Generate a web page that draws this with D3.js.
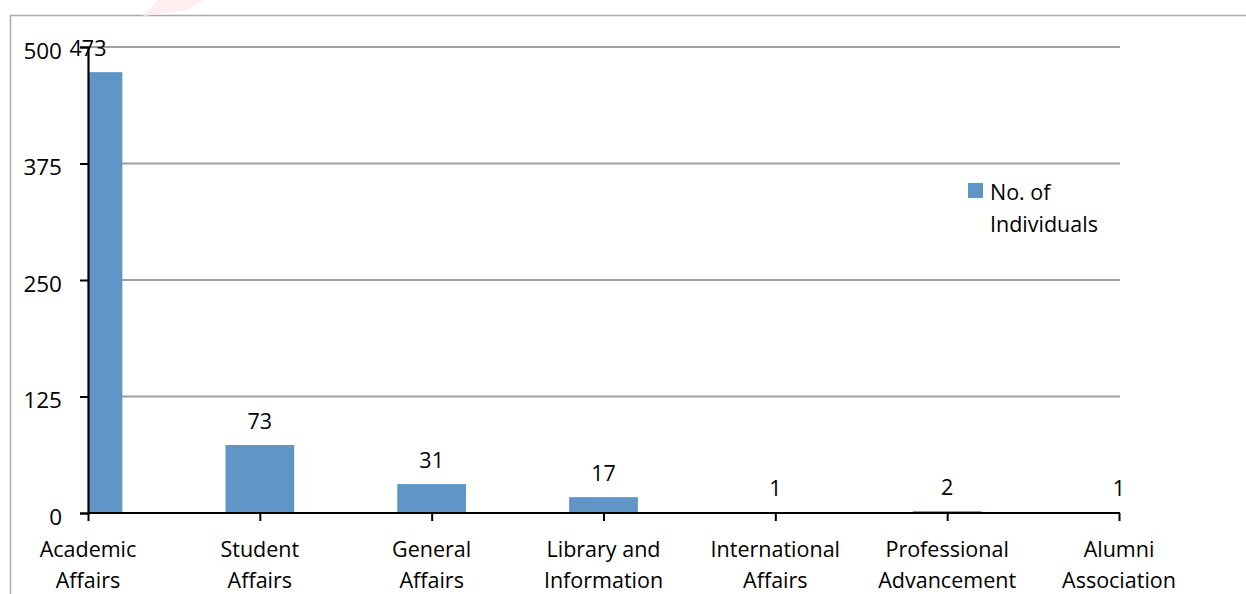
<!DOCTYPE html>
<html>
<head>
<meta charset="utf-8">
<script src="https://cdn.jsdelivr.net/npm/d3@7"></script>
<style>
  html, body { margin: 0; padding: 0; background: #fff; }
  svg { display: block; font-family: "Open Sans", "Noto Sans", sans-serif; }
</style>
</head>
<body>
<svg id="chart" width="1246" height="594"></svg>
<script>
const categories = [
  ["Academic", "Affairs"],
  ["Student", "Affairs"],
  ["General", "Affairs"],
  ["Library and", "Information"],
  ["International", "Affairs"],
  ["Professional", "Advancement"],
  ["Alumni", "Association"]
];
const values = [473, 73, 31, 17, 1, 2, 1];
const yTicks = [0, 125, 250, 375, 500];
const seriesName = ["No. of", "Individuals"];

(function () {
const svg = d3.select("#chart");
const W = 1246, H = 594;
const pLeft = 88, pRight = 1120, pTop = 47, pBottom = 513;
const barColor = "#6095c8";
const fs = 21.5;

// outer frame (cropped at right and bottom)
svg.append("path")
  .attr("d", `M10.5,${H + 5} V15.5 H${W + 5}`)
  .attr("fill", "none").attr("stroke", "#ababab").attr("stroke-width", 1.5);

// faint watermark fragment at top
svg.append("path")
  .attr("d", "M143,16 L158,0 L203,0 L188,10 Z")
  .attr("fill", "#fdeef0");

const keys = categories.map((c, i) => i);
const x = d3.scalePoint().domain(keys).range([pLeft, pRight - 1]);
const step = x.step();
const barW = step * 0.4;
const y = d3.scaleLinear().domain([0, 500]).range([pBottom, pTop]);

// gridlines
svg.append("g").selectAll("line").data(yTicks.filter(t => t > 0)).join("line")
  .attr("x1", pLeft).attr("x2", pRight)
  .attr("y1", d => y(d)).attr("y2", d => y(d))
  .attr("stroke", "#a0a0a0").attr("stroke-width", 2);

// clip
svg.append("clipPath").attr("id", "plotclip").append("rect")
  .attr("x", pLeft).attr("y", 0).attr("width", pRight - pLeft).attr("height", pBottom);

svg.append("g").attr("clip-path", "url(#plotclip)")
  .selectAll("rect").data(values).join("rect")
  .attr("x", (d, i) => x(i) - barW / 2)
  .attr("width", barW)
  .attr("y", d => y(d))
  .attr("height", d => pBottom - y(d))
  .attr("fill", barColor);

// y axis
const yAxis = svg.append("g").attr("transform", `translate(${pLeft},0)`)
  .call(d3.axisLeft(y).tickValues(yTicks).tickSize(8).tickPadding(18).tickFormat(d3.format("d")));
yAxis.select(".domain").attr("stroke", "#000").attr("stroke-width", 2.2);
yAxis.selectAll(".tick line").attr("stroke", "#000").attr("stroke-width", 2);
yAxis.selectAll(".tick text").attr("font-size", 22.5).attr("fill", "#000")
  .attr("font-family", "'Open Sans', sans-serif").attr("dy", "0.5em");

// x axis
const xAxis = svg.append("g").attr("transform", `translate(0,${pBottom})`)
  .call(d3.axisBottom(x).tickSize(8).tickFormat(""));
xAxis.select(".domain").attr("stroke", "#000").attr("stroke-width", 2.2)
  .attr("d", `M${pLeft},0H${pRight}`);
xAxis.selectAll(".tick line").attr("stroke", "#000").attr("stroke-width", 2);

// category labels
const lab = svg.append("g").selectAll("text").data(categories).join("text")
  .attr("x", (d, i) => x(i))
  .attr("y", 557)
  .attr("text-anchor", "middle")
  .attr("font-size", fs)
  .attr("fill", "#000");
lab.selectAll("tspan").data(d => d).join("tspan")
  .attr("x", function () { return d3.select(this.parentNode).attr("x"); })
  .attr("dy", (d, j) => j === 0 ? 0 : 31)
  .text(d => d);

// data labels
svg.append("g").selectAll("text").data(values).join("text")
  .attr("x", (d, i) => x(i))
  .attr("y", d => y(d) - 16)
  .attr("text-anchor", "middle")
  .attr("font-size", fs)
  .attr("fill", "#000")
  .text(d => d);

// legend
const lg = svg.append("g");
lg.append("rect").attr("x", 968).attr("y", 183).attr("width", 15).attr("height", 15).attr("fill", barColor);
lg.append("text").attr("x", 990).attr("y", 200).attr("font-size", fs).attr("fill", "#000")
  .selectAll("tspan").data(seriesName).join("tspan")
  .attr("x", 990).attr("dy", (d, j) => j === 0 ? 0 : 32).text(d => d);
})();
</script>
</body>
</html>
